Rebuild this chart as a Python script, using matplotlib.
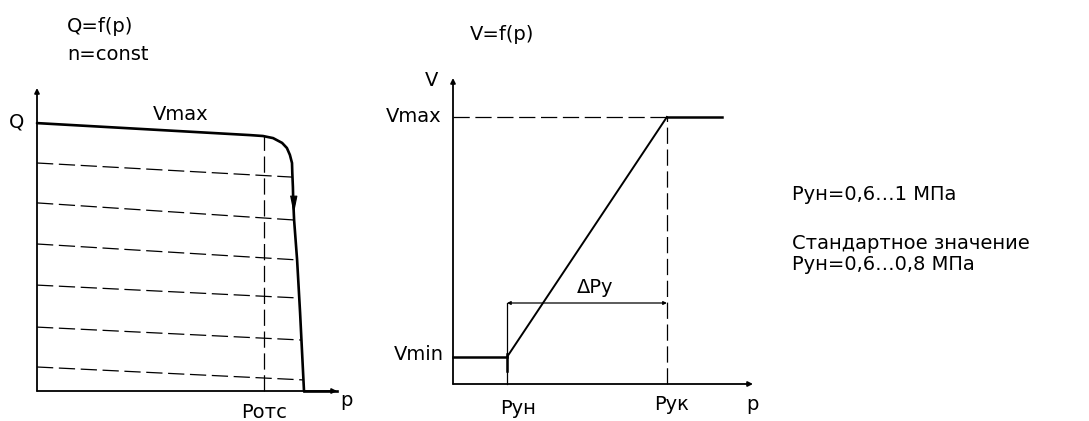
import matplotlib
matplotlib.use("Agg")
import matplotlib.pyplot as plt
import numpy as np

plt.rcParams['font.family'] = ['DejaVu Sans']

# ---------------- data ----------------
# left panel: Q = f(p), n = const  (arbitrary units 0..100)
q_curve_p = [0, 71.0, 75.3, 78.7, 81.7, 83.3, 84.3, 85.0, 85.1, 85.3, 85.4, 85.7, 86.7, 87.7, 89.0]
q_curve_q = [89.3, 85.3, 85.0, 84.3, 82.7, 81.0, 78.7, 76.0, 72.7, 68.0, 63.7, 57.0, 43.7, 26.0, 0.0]
q_tail_p = [89.0, 100.0]
q_tail_q = [0.0, 0.0]
dash_q_start = [76.0, 62.7, 49.0, 35.3, 21.3, 8.0]
dash_q_end = [71.3, 57.0, 43.7, 31.0, 17.0, 3.7]
dash_p_end = [85.1, 85.7, 86.7, 87.3, 88.0, 88.6]
p_omc = 75.7
q_at_pomc = 85.0
arrow_p, arrow_q = 85.4, 62.5

# right panel: V = f(p)
v_min = 9.0
v_max = 89.0
p_un = 18.0
p_uk = 71.3
p_end = 89.7
dim_level = 27.0

left_title = ["Q=f(p)", "n=const"]
right_title = "V=f(p)"
notes = ["Pун=0,6…1 МПа", "Стандартное значение", "Pун=0,6…0,8 МПа"]

# ---------------- figure ----------------
W, H = 1089, 421
fig = plt.figure(figsize=(W / 100, H / 100), dpi=100)
fig.patch.set_facecolor("white")

def px_axes(x0, y0, x1, y1):
    # x0,x1 left/right pixel; y0 top pixel, y1 bottom pixel
    return fig.add_axes([x0 / W, 1 - y1 / H, (x1 - x0) / W, (y1 - y0) / H])

FS = 14
DASH = (0, (13, 4.5))
K = "black"

# ---------- left panel ----------
axL = px_axes(37, 88, 337, 391)
axL.set_xlim(0, 100)
axL.set_ylim(0, 101)
axL.axis("off")

axL.annotate("", xy=(0, 101), xytext=(0, 0),
             arrowprops=dict(arrowstyle="-|>", lw=1.3, color=K, mutation_scale=7,
                             shrinkA=0, shrinkB=0), annotation_clip=False)
axL.annotate("", xy=(100, 0), xytext=(0, 0),
             arrowprops=dict(arrowstyle="-|>", lw=1.3, color=K, mutation_scale=7,
                             shrinkA=0, shrinkB=0), annotation_clip=False)

axL.plot(q_curve_p, q_curve_q, color=K, lw=1.9, solid_capstyle="round",
         solid_joinstyle="round", clip_on=False)
axL.plot(q_tail_p, q_tail_q, color=K, lw=1.9, clip_on=False)
for qs, qe, pe in zip(dash_q_start, dash_q_end, dash_p_end):
    axL.plot([0, pe], [qs, qe], color=K, lw=0.9, linestyle=DASH, clip_on=False)
axL.plot([p_omc, p_omc], [0, q_at_pomc], color=K, lw=0.9, linestyle=DASH, clip_on=False)
axL.plot([arrow_p], [arrow_q], marker=[(-0.4, 1), (0.4, 1), (0, -1)], markersize=12,
         color=K, markeredgewidth=0.8, clip_on=False)

axL.text(-6.7, 89.5, "Q", fontsize=FS, ha="center", va="center")
axL.text(48, 92, "Vmax", fontsize=FS, ha="center", va="center")
axL.text(p_omc, -7, "Pотс", fontsize=FS, ha="center", va="center")
axL.text(103, -3, "p", fontsize=FS, ha="center", va="center")

fig.text(67 / W, 1 - 27 / H, left_title[0], fontsize=FS, ha="left", va="center")
fig.text(67 / W, 1 - 55 / H, left_title[1], fontsize=FS, ha="left", va="center")

# ---------- right panel ----------
axR = px_axes(453, 78, 753, 384)
axR.set_xlim(0, 100)
axR.set_ylim(0, 102)
axR.axis("off")

axR.annotate("", xy=(0, 102), xytext=(0, 0),
             arrowprops=dict(arrowstyle="-|>", lw=1.3, color=K, mutation_scale=7,
                             shrinkA=0, shrinkB=0), annotation_clip=False)
axR.annotate("", xy=(100, 0), xytext=(0, 0),
             arrowprops=dict(arrowstyle="-|>", lw=1.3, color=K, mutation_scale=7,
                             shrinkA=0, shrinkB=0), annotation_clip=False)

axR.plot([0, p_un], [v_min, v_min], color=K, lw=1.8, clip_on=False)
axR.plot([p_un, p_uk], [v_min, v_max], color=K, lw=1.4, clip_on=False)
axR.plot([p_uk, p_end], [v_max, v_max], color=K, lw=1.8, clip_on=False)
axR.plot([0, p_uk], [v_max, v_max], color=K, lw=0.9, linestyle=DASH, clip_on=False)
axR.plot([p_uk, p_uk], [0, v_max], color=K, lw=0.9, linestyle=DASH, clip_on=False)
axR.plot([p_un, p_un], [0, dim_level], color=K, lw=0.9, clip_on=False)
axR.plot([p_un, p_un], [4.5, 10.0], color=K, lw=1.8, clip_on=False)
axR.annotate("", xy=(p_uk, dim_level), xytext=(p_un, dim_level),
             arrowprops=dict(arrowstyle="<|-|>", lw=0.9, color=K, mutation_scale=5,
                             shrinkA=0, shrinkB=0), annotation_clip=False)

axR.text(-7, 101, "V", fontsize=FS, ha="center", va="center")
axR.text(-4, v_max, "Vmax", fontsize=FS, ha="right", va="center")
axR.text(-3, v_min + 1, "Vmin", fontsize=FS, ha="right", va="center")
axR.text(p_un + 3.7, -8, "Pун", fontsize=FS, ha="center", va="center")
axR.text(p_uk + 1.7, -7, "Pук", fontsize=FS, ha="center", va="center")
axR.text(99.7, -7, "p", fontsize=FS, ha="center", va="center")
axR.text(47.3, 32.3, "ΔPу", fontsize=FS, ha="center", va="center")

fig.text(470 / W, 1 - 34 / H, right_title, fontsize=FS, ha="left", va="center")

# ---------- notes ----------
fig.text(792 / W, 1 - 194 / H, notes[0], fontsize=FS, ha="left", va="center")
fig.text(792 / W, 1 - 243 / H, notes[1], fontsize=FS, ha="left", va="center")
fig.text(792 / W, 1 - 265 / H, notes[2], fontsize=FS, ha="left", va="center")

fig.savefig("out.png", dpi=100, facecolor="white")
